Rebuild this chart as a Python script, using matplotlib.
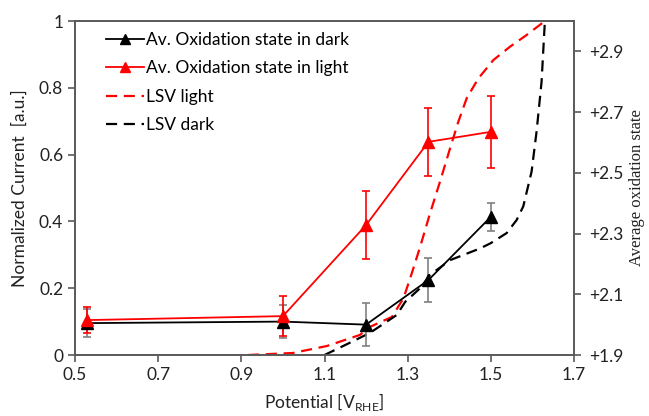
import matplotlib
matplotlib.use("Agg")
import matplotlib.pyplot as plt
from matplotlib.ticker import FixedLocator, FuncFormatter

# --- data ---
potential = [0.53, 1.0, 1.2, 1.35, 1.5]
ox_dark = [2.005, 2.01, 2.0, 2.147, 2.355]
ox_dark_err = [0.045, 0.055, 0.07, 0.072, 0.046]
ox_light = [2.015, 2.028, 2.328, 2.602, 2.635]
ox_light_err = [0.043, 0.065, 0.112, 0.112, 0.118]

lsv_light_x = [0.916, 1.024, 1.106, 1.185, 1.209, 1.262, 1.29, 1.31, 1.33, 1.354,
               1.378, 1.402, 1.422, 1.442, 1.47, 1.506, 1.546, 1.586, 1.63]
lsv_light_y = [0.0, 0.006, 0.027, 0.06, 0.084, 0.114, 0.17, 0.245, 0.324, 0.425,
               0.52, 0.619, 0.699, 0.769, 0.828, 0.883, 0.923, 0.958, 1.0]
lsv_dark_x = [1.10, 1.15, 1.209, 1.274, 1.294, 1.33, 1.354, 1.402, 1.474, 1.50,
              1.538, 1.562, 1.578, 1.598, 1.610, 1.622, 1.63]
lsv_dark_y = [0.0, 0.03, 0.066, 0.12, 0.159, 0.2, 0.24, 0.284, 0.319, 0.335,
              0.365, 0.404, 0.445, 0.549, 0.669, 0.818, 1.0]

left_ticks = [0, 0.2, 0.4, 0.6, 0.8, 1.0]
right_ticks = [1.9, 2.1, 2.3, 2.5, 2.7, 2.9]
x_ticks = [0.5, 0.7, 0.9, 1.1, 1.3, 1.5, 1.7]

plt.rcParams['font.family'] = ['Lato', 'DejaVu Sans']
spine_col = '#595959'

fig = plt.figure(figsize=(6.49, 4.16), dpi=100)
ax = fig.add_axes([75/649, 1-355/416, (574-75)/649, (355-21)/416])
ax2 = ax.twinx()

# LSV curves on left axis
l3, = ax.plot(lsv_light_x, lsv_light_y, color='red', ls=(0, (5, 3)), lw=1.6,
              solid_joinstyle='round', dash_joinstyle='round', label='LSV light')
l4, = ax.plot(lsv_dark_x, lsv_dark_y, color='black', ls=(0, (5, 3)), lw=1.6,
              solid_joinstyle='round', dash_joinstyle='round', label='LSV dark')

# oxidation states on right axis
ax2.errorbar(potential, ox_dark, yerr=ox_dark_err, fmt='none', ecolor='#808080',
             elinewidth=1.2, capsize=3, capthick=1.2, zorder=2)
ax2.errorbar(potential, ox_light, yerr=ox_light_err, fmt='none', ecolor='red',
             elinewidth=1.2, capsize=3, capthick=1.2, zorder=2)
l1, = ax2.plot(potential, ox_dark, color='black', marker='^', ms=9, lw=1.3,
               label='Av. Oxidation state in dark', zorder=3)
l2, = ax2.plot(potential, ox_light, color='red', marker='^', ms=9, lw=1.3,
               label='Av. Oxidation state in light', zorder=4)

ax.set_xlim(0.5, 1.7)
ax.set_ylim(0, 1)
ax2.set_ylim(1.9, 3.0)
ax.xaxis.set_major_locator(FixedLocator(x_ticks))
ax.yaxis.set_major_locator(FixedLocator(left_ticks))
ax2.yaxis.set_major_locator(FixedLocator(right_ticks))
ax.xaxis.set_major_formatter(FuncFormatter(lambda v, p: f"{v:.1f}"))
ax.yaxis.set_major_formatter(FuncFormatter(lambda v, p: "0" if v == 0 else ("1" if v == 1 else f"{v:.1f}")))
ax2.yaxis.set_major_formatter(FuncFormatter(lambda v, p: f"+{v:.1f}"))

for a in (ax, ax2):
    for s in a.spines.values():
        s.set_color(spine_col)
        s.set_linewidth(1.2)
    a.tick_params(colors=spine_col, labelcolor='#222222', labelsize=12.5, length=5, width=1.2, direction='out')
ax2.tick_params(axis='y', pad=6)

ax.set_ylabel('Normalized Current  [a.u.]', fontsize=12.5, color='#222222', labelpad=8)
ax.set_xlabel(r'Potential [V$_{\mathregular{RHE}}$]', fontsize=12.5, color='#222222', labelpad=6)
ax2.set_ylabel('Average oxidation state', fontsize=12, fontfamily=['Liberation Serif', 'DejaVu Serif'],
               color='#222222', labelpad=4)

leg = ax.legend(handles=[l1, l2, l3, l4], loc='upper left', bbox_to_anchor=(0.03, 1.015),
                frameon=False, fontsize=12.5, handlelength=2.2, handletextpad=0.1,
                labelspacing=0.72, markerscale=0.8)

fig.savefig('out.png', dpi=100)
